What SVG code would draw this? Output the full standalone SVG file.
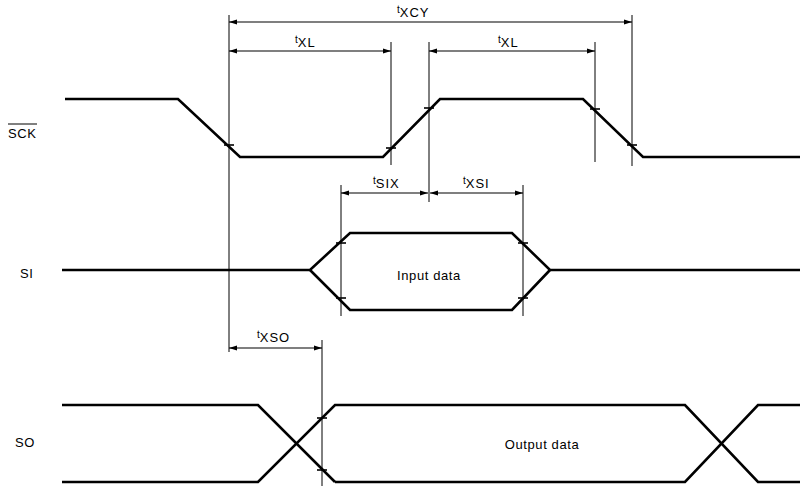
<svg xmlns="http://www.w3.org/2000/svg" width="800" height="486" viewBox="0 0 800 486">
<defs>
<style>
.w{fill:none;stroke:#000;stroke-width:2.6;stroke-linejoin:miter}
.v{fill:none;stroke:#000;stroke-width:1}
.d{fill:none;stroke:#000;stroke-width:1.2;marker-start:url(#a);marker-end:url(#a)}
.tk{stroke:#000;stroke-width:1.6}
text{font-family:"Liberation Sans",Arial,sans-serif;fill:#000}
.lb{font-size:13px;letter-spacing:0.6px}
.t{font-size:10px}
.s{font-size:13px;letter-spacing:1px}
</style>
<marker id="a" viewBox="0 0 8 6" refX="8" refY="3" markerWidth="8" markerHeight="6" markerUnits="userSpaceOnUse" orient="auto-start-reverse">
<path d="M0,0.5 L8,3 L0,5.5 Z" fill="#000"/>
</marker>
</defs>
<rect width="800" height="486" fill="#fff"/>
<g id="labels">
<text class="lb" x="8" y="138">SCK</text>
<line x1="8" y1="124" x2="37" y2="124" stroke="#000" stroke-width="1"/>
<text class="lb" x="20" y="278">SI</text>
<text class="lb" x="15" y="447">SO</text>
</g>
<g id="sck">
<polyline class="w" points="65,99 178,99 240,157 383,157 440,99 583,99 643,157 800,157"/>
</g>
<g id="si">
<polyline class="w" points="62,270 310,270 350,233 512,233 550,270 800,270"/>
<polyline class="w" points="310,270 350,310 512,310 550,270"/>
<text class="lb" x="429" y="280" text-anchor="middle">Input data</text>
</g>
<g id="so">
<polyline class="w" points="62,405 258,405 335,482"/>
<polyline class="w" points="62,482 258,482 335,405 685,405 758,482 800,482"/>
<polyline class="w" points="335,482 685,482 758,405 800,405"/>
<text class="lb" x="542" y="449" text-anchor="middle">Output data</text>
</g>
<g id="connectors">
<line class="v" x1="229" y1="15" x2="229" y2="352"/>
<line class="v" x1="391" y1="42" x2="391" y2="165"/>
<line class="v" x1="429" y1="42" x2="429" y2="202"/>
<line class="v" x1="595" y1="42" x2="595" y2="162"/>
<line class="v" x1="632" y1="15" x2="632" y2="166"/>
<line class="v" x1="341" y1="185" x2="341" y2="316"/>
<line class="v" x1="523" y1="185" x2="523" y2="316"/>
<line class="v" x1="322" y1="340" x2="322" y2="486"/>
<line class="d" x1="229" y1="22" x2="632" y2="22"/>
<line class="d" x1="229" y1="51" x2="391" y2="51"/>
<line class="d" x1="429" y1="51" x2="595" y2="51"/>
<line class="d" x1="341" y1="193" x2="428" y2="193"/>
<line class="d" x1="430" y1="193" x2="523" y2="193"/>
<line class="d" x1="229" y1="348" x2="322" y2="348"/>
<line class="tk" x1="224" y1="145" x2="234" y2="145"/>
<line class="tk" x1="386" y1="148" x2="396" y2="148"/>
<line class="tk" x1="424" y1="108" x2="434" y2="108"/>
<line class="tk" x1="590" y1="109" x2="600" y2="109"/>
<line class="tk" x1="627" y1="145" x2="637" y2="145"/>
<line class="tk" x1="336" y1="243" x2="346" y2="243"/>
<line class="tk" x1="336" y1="298" x2="346" y2="298"/>
<line class="tk" x1="518" y1="243" x2="528" y2="243"/>
<line class="tk" x1="518" y1="298" x2="528" y2="298"/>
<line class="tk" x1="317" y1="418" x2="327" y2="418"/>
<line class="tk" x1="317" y1="470" x2="327" y2="470"/>
</g>
<g id="timing-labels">
<text x="397" y="17"><tspan class="t" dy="-4">t</tspan><tspan class="s" dy="4">XCY</tspan></text>
<text x="295" y="47"><tspan class="t" dy="-4">t</tspan><tspan class="s" dy="4">XL</tspan></text>
<text x="498" y="47"><tspan class="t" dy="-4">t</tspan><tspan class="s" dy="4">XL</tspan></text>
<text x="373" y="188"><tspan class="t" dy="-4">t</tspan><tspan class="s" dy="4">SIX</tspan></text>
<text x="463" y="188"><tspan class="t" dy="-4">t</tspan><tspan class="s" dy="4">XSI</tspan></text>
<text x="257" y="342"><tspan class="t" dy="-4">t</tspan><tspan class="s" dy="4">XSO</tspan></text>
</g>
</svg>
